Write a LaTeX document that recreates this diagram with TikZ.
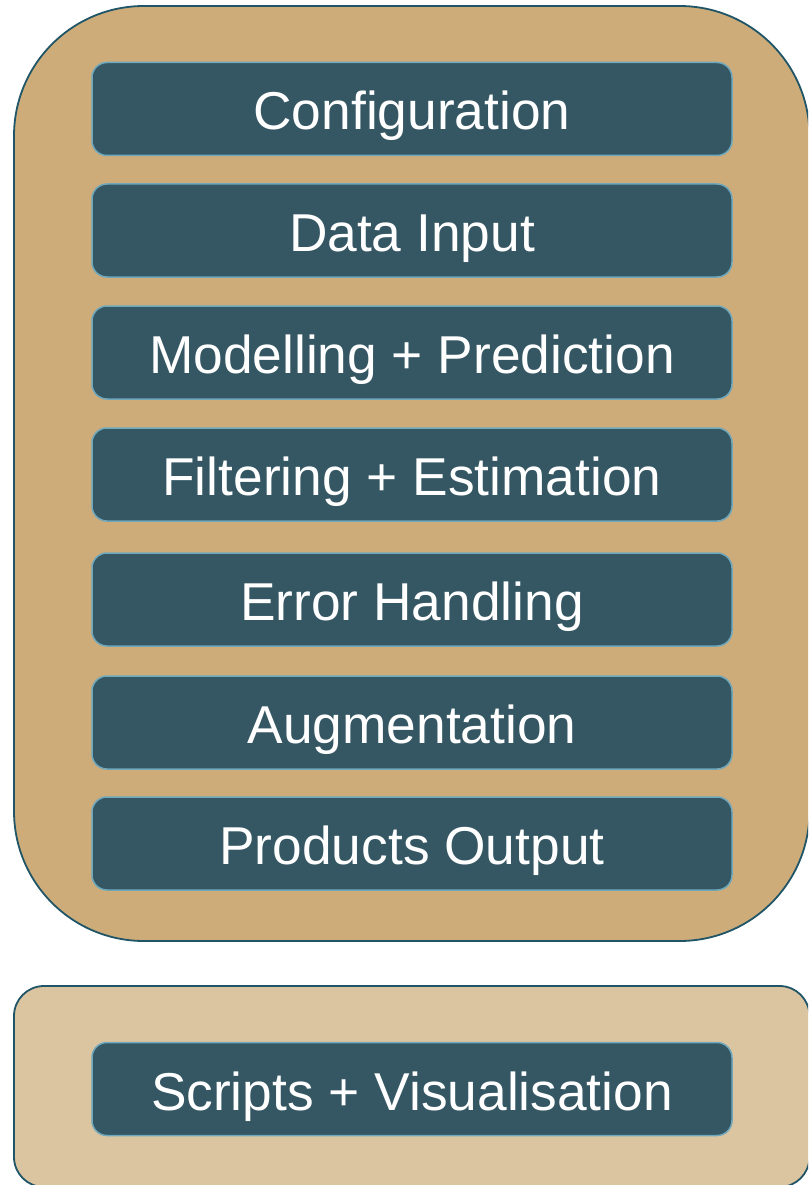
\documentclass[tikz,border=0pt]{standalone}
\usepackage{fontspec}
\setmainfont{Liberation Sans}
\definecolor{outerfill}{HTML}{CDAC7A}
\definecolor{lowerfill}{HTML}{DBC4A0}
\definecolor{outerline}{HTML}{1F5566}
\definecolor{boxfill}{HTML}{345763}
\definecolor{boxline}{HTML}{6FA8BC}
\begin{document}
\begin{tikzpicture}[x=1pt,y=-1pt,
  module/.style={draw=boxline, fill=boxfill, line width=1.5pt, rounded corners=15pt,
    minimum width=640pt, minimum height=93pt, inner sep=0pt, text=white,
    text height=42pt, text depth=0pt,
    font=\fontsize{53.3}{60}\selectfont},
  frame/.style={draw=outerline, line width=1.8pt}]
\useasboundingbox (0,0) rectangle (808,1185);
\begin{scope}
\clip (0,0) rectangle (808,1185);
\draw[frame, fill=outerfill, rounded corners=130pt] (14,6) rectangle (809.5,941);
\draw[frame, fill=lowerfill, rounded corners=30pt] (14,986) rectangle (809.5,1187);
\end{scope}
\node[module] (config) at (412,109) {Configuration};
\node[module] (input) at (412,230.5) {Data Input};
\node[module] (model) at (412,352.5) {Modelling + Prediction};
\node[module] (filter) at (412,474.5) {Filtering + Estimation};
\node[module] (error) at (412,599.5) {Error Handling};
\node[module] (augment) at (412,722.5) {Augmentation};
\node[module] (output) at (412,843.5) {Products Output};
\node[module] (scripts) at (412,1089) {Scripts + Visualisation};
\end{tikzpicture}
\end{document}
